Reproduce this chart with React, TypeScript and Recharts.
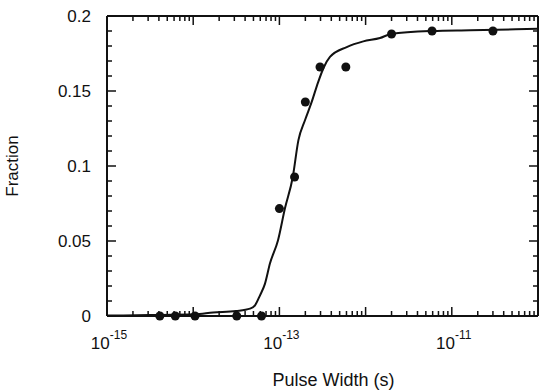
import React from 'react';
import { ComposedChart, Line, Scatter, XAxis, YAxis, Label } from 'recharts';

// ─── Data ────────────────────────────────────────────────────────────────────
const pulseWidths = [4.1e-15, 6.2e-15, 1.05e-14, 3.2e-14, 6.2e-14, 1.0e-13, 1.5e-13, 2.0e-13, 2.96e-13, 5.9e-13, 2.0e-12, 5.9e-12, 3.0e-11];
const fractions = [0, 0, 0, 0, 0, 0.0716, 0.0927, 0.1427, 0.166, 0.166, 0.188, 0.19, 0.19];

const fitX = [1e-15, 3.16e-15, 1.05e-14, 1.7e-14, 3.14e-14, 4.56e-14, 5.21e-14, 5.96e-14, 6.81e-14, 7.78e-14, 9.64e-14, 1.16e-13, 1.43e-13, 1.66e-13, 1.98e-13, 2.37e-13, 2.81e-13, 3.29e-13, 3.86e-13, 6.04e-13, 9.4e-13, 1.47e-12, 1.97e-12, 5.94e-12, 1.63e-11, 1e-10];
const fitY = [0.0003, 0.0006, 0.0011, 0.0023, 0.0033, 0.0049, 0.0071, 0.0138, 0.0216, 0.0351, 0.0505, 0.0718, 0.0927, 0.1171, 0.1305, 0.1427, 0.1558, 0.166, 0.1727, 0.1793, 0.1831, 0.1853, 0.188, 0.19, 0.1905, 0.1915];

const decades = [-15, -14, -13, -12, -11];
const minorSteps = [2, 3, 4, 5, 6, 7, 8, 9];
const labelledDecades = [-15, -13, -11];
const yTicks = [0, 0.01, 0.02, 0.03, 0.04, 0.05, 0.06, 0.07, 0.08, 0.09, 0.1, 0.11, 0.12, 0.13, 0.14, 0.15, 0.16, 0.17, 0.18, 0.19, 0.2];
const yMajor = [0, 0.05, 0.1, 0.15, 0.2];
const yLabels = ['0', '0.05', '0.1', '0.15', '0.2'];

const points = pulseWidths.map((x, i) => ({ x, y: fractions[i] }));
const fit = fitX.map((x, i) => ({ x, y: fitY[i] }));
const xTicks = [...decades.flatMap(d => [10 ** d, ...minorSteps.map(m => m * 10 ** d)]), 1e-10];

const FONT = '"Liberation Sans", Arial, Helvetica, sans-serif';
const INK = '#111';

// ─── Tick renderers (inward ticks, like the original frame) ──────────────────
const XTick = (props: any) => {
  const { x, y, payload, side } = props;
  const e = Math.log10(payload.value);
  const major = Math.abs(e - Math.round(e)) < 1e-6;
  const len = major ? 9 : 5;
  const dir = side === 'top' ? 1 : -1;
  const showLabel = side === 'bottom' && major && labelledDecades.includes(Math.round(e));
  return (
    <g>
      <line x1={x} x2={x} y1={y} y2={y + dir * len} stroke={INK} strokeWidth={1.5} />
      {showLabel && (
        <text x={x + 2} y={y + 33} textAnchor="middle" fontFamily={FONT} fontSize={17} fill={INK}>
          <tspan>10</tspan>
          <tspan dy={-10} fontSize={12}>{Math.round(e)}</tspan>
        </text>
      )}
    </g>
  );
};

const YTick = (props: any) => {
  const { x, y, payload, side } = props;
  const idx = yMajor.findIndex(v => Math.abs(v - payload.value) < 1e-9);
  const len = idx >= 0 ? 9 : 5;
  const dir = side === 'left' ? 1 : -1;
  return (
    <g>
      <line x1={x} x2={x + dir * len} y1={y} y2={y} stroke={INK} strokeWidth={1.5} />
      {side === 'left' && idx >= 0 && (
        <text x={x - 16} y={y} dy="0.36em" textAnchor="end" fontFamily={FONT} fontSize={17} fill={INK}>
          {yLabels[idx]}
        </text>
      )}
    </g>
  );
};

const Dot = (p: any) => <circle cx={p.cx} cy={p.cy} r={4.5} fill={INK} />;

export default function App() {
  const xCommon = {
    type: 'number' as const,
    dataKey: 'x',
    scale: 'log' as const,
    domain: [1e-15, 1e-10],
    ticks: xTicks,
    interval: 0,
    height: 1,
    tickSize: 0,
    tickMargin: 0,
    tickLine: false,
    axisLine: { stroke: INK, strokeWidth: 2 },
  };
  const yCommon = {
    type: 'number' as const,
    dataKey: 'y',
    domain: [0, 0.2],
    ticks: yTicks,
    interval: 0,
    width: 1,
    tickSize: 0,
    tickMargin: 0,
    tickLine: false,
    axisLine: { stroke: INK, strokeWidth: 2 },
  };

  return (
    <div>
      <style>{'body{margin:0;background:#fff}'}</style>
      <ComposedChart width={539} height={391} margin={{ top: 15, right: 0, bottom: 74, left: 106 }}>
        <XAxis {...xCommon} xAxisId={0} orientation="bottom" tick={<XTick side="bottom" />}>
          <Label
            content={({ viewBox }: any) => (
              <text
                x={viewBox.x + viewBox.width / 2 + 11}
                y={viewBox.y + 70}
                textAnchor="middle"
                fontFamily={FONT}
                fontSize={18}
                fill={INK}
              >
                Pulse Width (s)
              </text>
            )}
          />
        </XAxis>
        <XAxis {...xCommon} xAxisId="top" orientation="top" tick={<XTick side="top" />} />
        <YAxis {...yCommon} yAxisId={0} orientation="left" tick={<YTick side="left" />}>
          <Label
            content={({ viewBox }: any) => {
              const cx = viewBox.x - 88;
              const cy = viewBox.y + viewBox.height / 2;
              return (
                <text
                  x={cx}
                  y={cy}
                  transform={`rotate(-90 ${cx} ${cy})`}
                  textAnchor="middle"
                  fontFamily={FONT}
                  fontSize={17}
                  fill={INK}
                >
                  Fraction
                </text>
              );
            }}
          />
        </YAxis>
        <YAxis {...yCommon} yAxisId="right" orientation="right" tick={<YTick side="right" />} />
        <Line
          data={fit}
          dataKey="y"
          xAxisId={0}
          yAxisId={0}
          type="monotone"
          stroke={INK}
          strokeWidth={2}
          dot={false}
          activeDot={false}
          isAnimationActive={false}
        />
        {/* dots sit on the mirrored top/right axes (same domains) so those axes get their ticks */}
        <Scatter
          data={points}
          dataKey="y"
          xAxisId="top"
          yAxisId="right"
          shape={<Dot />}
          isAnimationActive={false}
        />
      </ComposedChart>
    </div>
  );
}
